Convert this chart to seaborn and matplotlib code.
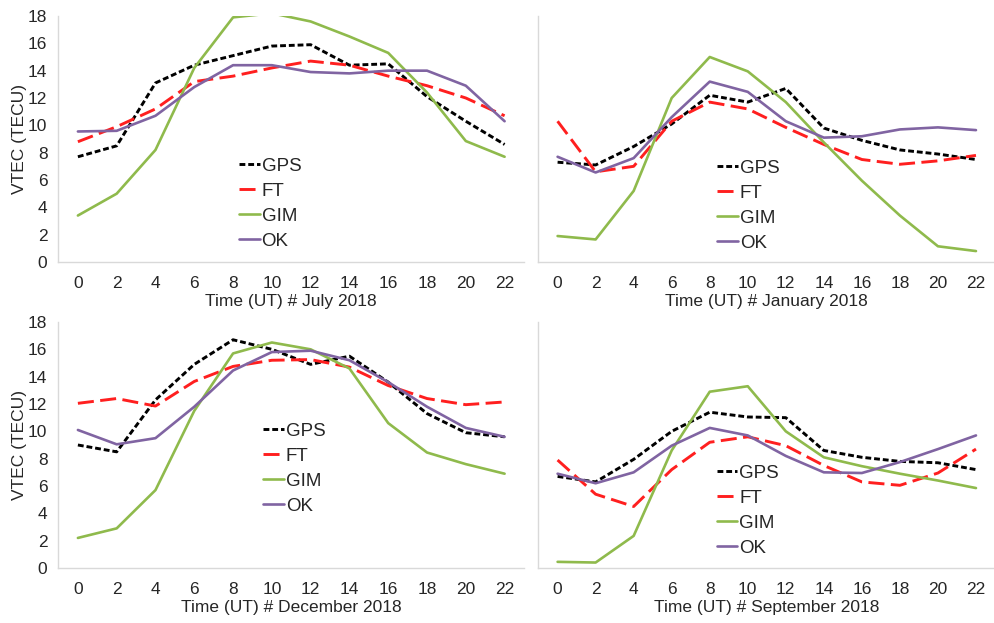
import matplotlib
matplotlib.use("Agg")
import matplotlib.pyplot as plt
import seaborn as sns
import numpy as np

sns.set_style("white")
plt.rcParams['font.family'] = ['Liberation Sans', 'DejaVu Sans']

# ---- data ----
TIME = [0, 2, 4, 6, 8, 10, 12, 14, 16, 18, 20, 22]
SERIES = ["GPS", "FT", "GIM", "OK"]

jul_gps = [7.7, 8.5, 13.1, 14.4, 15.1, 15.8, 15.9, 14.4, 14.5, 12.1, 10.3, 8.6]
jul_ft = [8.8, 9.9, 11.2, 13.2, 13.6, 14.2, 14.7, 14.4, 13.6, 12.9, 12.0, 10.7]
jul_gim = [3.4, 5.0, 8.2, 14.2, 17.9, 18.2, 17.6, 16.5, 15.3, 12.4, 8.85, 7.7]
jul_ok = [9.55, 9.6, 10.7, 12.8, 14.4, 14.4, 13.9, 13.8, 14.0, 14.0, 12.9, 10.3]

jan_gps = [7.3, 7.1, 8.45, 10.1, 12.2, 11.7, 12.7, 9.8, 8.9, 8.2, 7.9, 7.5]
jan_ft = [10.3, 6.6, 7.0, 10.3, 11.7, 11.2, 9.85, 8.6, 7.5, 7.15, 7.4, 7.8]
jan_gim = [1.9, 1.65, 5.2, 12.0, 15.0, 13.95, 11.7, 8.75, 5.95, 3.4, 1.15, 0.8]
jan_ok = [7.7, 6.55, 7.6, 10.6, 13.2, 12.45, 10.3, 9.1, 9.2, 9.7, 9.85, 9.65]

dec_gps = [9.0, 8.5, 12.3, 14.9, 16.7, 16.0, 14.9, 15.5, 13.6, 11.3, 9.9, 9.6]
dec_ft = [12.05, 12.4, 11.85, 13.65, 14.75, 15.2, 15.25, 14.7, 13.35, 12.4, 11.95, 12.15]
dec_gim = [2.2, 2.9, 5.7, 11.5, 15.7, 16.5, 16.0, 14.6, 10.6, 8.45, 7.6, 6.9]
dec_ok = [10.1, 9.05, 9.5, 11.8, 14.45, 15.8, 15.9, 15.2, 13.6, 11.8, 10.25, 9.6]

sep_gps = [6.7, 6.3, 7.95, 10.0, 11.4, 11.05, 11.0, 8.6, 8.1, 7.8, 7.7, 7.2]
sep_ft = [7.9, 5.4, 4.5, 7.2, 9.2, 9.6, 8.95, 7.5, 6.3, 6.05, 6.95, 8.7]
sep_gim = [0.45, 0.4, 2.35, 8.6, 12.9, 13.3, 10.0, 8.1, 7.45, 6.9, 6.4, 5.85]
sep_ok = [6.9, 6.2, 7.0, 8.95, 10.25, 9.7, 8.2, 7.0, 6.95, 7.75, 8.7, 9.7]

PANELS = [
    ("Time (UT) # July 2018", [jul_gps, jul_ft, jul_gim, jul_ok]),
    ("Time (UT) # January 2018", [jan_gps, jan_ft, jan_gim, jan_ok]),
    ("Time (UT) # December 2018", [dec_gps, dec_ft, dec_gim, dec_ok]),
    ("Time (UT) # September 2018", [sep_gps, sep_ft, sep_gim, sep_ok]),
]
YTICKS = [0, 2, 4, 6, 8, 10, 12, 14, 16, 18]

# ---- styles ----
COLORS = {"GPS": "#000000", "FT": "#ff1f1f", "GIM": "#8fba4c", "OK": "#8064a2"}
STYLES = {"GPS": (0, (2, 1)), "FT": (0, (5.5, 2.2)), "GIM": "-", "OK": "-"}
WIDTHS = {"GPS": 2.1, "FT": 2.1, "GIM": 1.9, "OK": 1.9}
SPINE = "#d9d9d9"
TXT = "#262626"

W, H = 995, 623
fig = plt.figure(figsize=(W / 100, H / 100), dpi=100)

col_left = [58.5, 538]
col_right = [524, 995]
row_top = [16, 322]
row_bot = [262, 568]
legend_pos = [(0.388, 0.425), (0.392, 0.417), (0.44, 0.591), (0.391, 0.421)]
xlims = [(-1, 23), (-1.03, 22.7), (-1, 23), (-1.03, 22.7)]

for i, (xlabel, vals) in enumerate(PANELS):
    r, c = divmod(i, 2)
    x0, x1 = col_left[c], col_right[c]
    yt, yb = row_top[r], row_bot[r]
    ax = fig.add_axes([x0 / W, 1 - yb / H, (x1 - x0) / W, (yb - yt) / H])
    for name, v in zip(SERIES, vals):
        sns.lineplot(x=TIME, y=v, ax=ax, color=COLORS[name], linestyle=STYLES[name],
                     linewidth=WIDTHS[name], label=name, legend=False)
    ax.set_xlim(*xlims[i])
    ax.set_ylim(0, 18)
    ax.set_xticks(TIME)
    ax.set_xticks(np.arange(-1, 24, 2), minor=True)
    ax.set_yticks(YTICKS)
    ax.tick_params(axis="x", which="major", length=0, pad=10, labelsize=12.5, labelcolor=TXT)
    ax.tick_params(axis="x", which="minor", length=5, width=1, color=SPINE, direction="out")
    ax.tick_params(axis="y", length=6, width=1, color=SPINE, direction="out", pad=2,
                   labelsize=12.5, labelcolor=TXT)
    for s in ["top", "right"]:
        ax.spines[s].set_visible(False)
    for s in ["left", "bottom"]:
        ax.spines[s].set_color(SPINE)
        ax.spines[s].set_linewidth(1)
    ax.set_xlabel(xlabel, fontsize=12.5, color=TXT, labelpad=2)
    if c == 0:
        ax.set_ylabel("VTEC (TECU)", fontsize=12.5, color=TXT)
        ax.yaxis.set_label_coords(-0.068, 0.5)
    else:
        ax.set_ylabel("")
        ax.tick_params(axis="y", labelleft=False)
    lx, ly = legend_pos[i]
    leg = ax.legend(loc="upper left", bbox_to_anchor=(lx, ly), frameon=False,
                    fontsize=13.5, handlelength=1.1, handletextpad=0.1,
                    labelspacing=0.42, borderpad=0, borderaxespad=0)
    for t in leg.get_texts():
        t.set_color(TXT)

fig.savefig("out.png", dpi=100)
